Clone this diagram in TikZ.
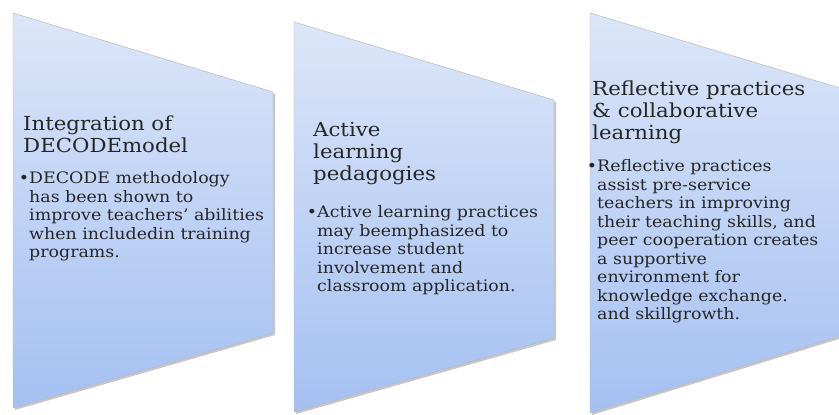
\documentclass[tikz,border=0pt]{standalone}
\usepackage{fontspec}
\setmainfont[FakeStretch=1.1]{DejaVu Serif}
\definecolor{panelTop}{RGB}{220,230,248}
\definecolor{panelBot}{RGB}{164,192,242}
\newcommand{\bul}{\llap{\textbullet}}
\tikzset{
	panel/.style={top color=panelTop, bottom color=panelBot, draw=gray!55, thin},
	panelshadow/.style={fill=gray!45},
	heading/.style={black!85, anchor=base west, inner sep=0pt, align=left, font=\fontsize{16.5}{19.2}\selectfont},
	bodytext/.style={black!85, anchor=base west, inner sep=0pt, align=left, font=\fontsize{13.5}{15.8}\selectfont},
}
\begin{document}
\begin{tikzpicture}
	\useasboundingbox (0.00,0.00) rectangle (25.17,12.45);
	\fill[white] (0.00,0.00) rectangle (25.17,12.45);
	\clip (0.00,0.00) rectangle (25.17,12.45);
	% shadows
	\fill[panelshadow] (0.45,12.00) -- (8.25,9.63) -- (8.25,2.40) -- (0.45,0.15) -- cycle;
	\fill[panelshadow] (8.88,11.73) -- (16.68,9.39) -- (16.68,2.25) -- (8.88,0.03) -- cycle;
	\fill[panelshadow] (17.76,12.00) -- (25.56,9.66) -- (25.56,2.40) -- (17.76,0.00) -- cycle;
	% panels
	\path[panel] (0.39,12.06) -- (8.19,9.69) -- (8.19,2.46) -- (0.39,0.21) -- cycle;
	\path[panel] (8.82,11.79) -- (16.62,9.45) -- (16.62,2.31) -- (8.82,0.09) -- cycle;
	\path[panel] (17.70,12.06) -- (25.50,9.72) -- (25.50,2.46) -- (17.70,0.06) -- cycle;
	% first panel (anchored at last baseline)
	\node[heading] (decodetitle) at (0.69,7.86) {Integration of\\DECODEmodel};
	\node[bodytext] (decodetext) at (0.87,4.71) {\bul DECODE methodology\\has been shown to\\improve teachers' abilities\\when includedin training\\programs.};
	% second panel
	\node[heading] (activetitle) at (9.39,7.02) {Active\\learning\\pedagogies};
	\node[bodytext] (activetext) at (9.51,3.69) {\bul Active learning practices\\may beemphasized to\\increase student\\involvement and\\classroom application.};
	% third panel
	\node[heading] (reflecttitle) at (17.76,8.25) {Reflective practices\\\& collaborative\\learning};
	\node[bodytext] (reflecttext) at (17.91,2.85) {\bul Reflective practices\\assist pre-service\\teachers in improving\\their teaching skills, and\\peer cooperation creates\\a supportive\\environment for\\knowledge exchange.\\and skillgrowth.};
\end{tikzpicture}
\end{document}
